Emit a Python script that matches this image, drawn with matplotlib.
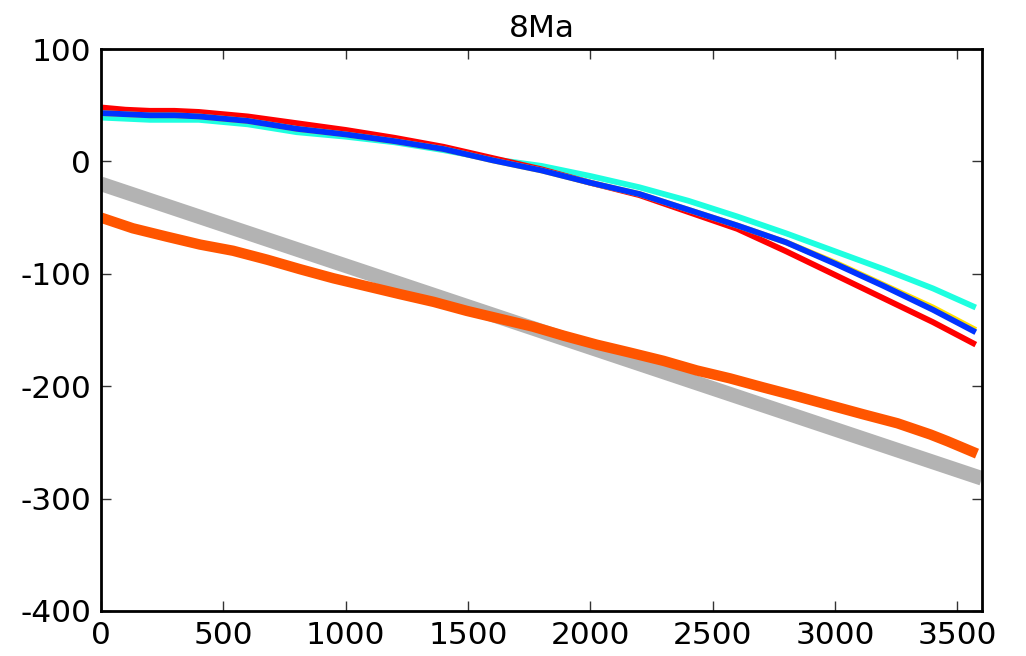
import numpy as np
from matplotlib import pyplot as plt

plt.rcParams['font.family'] = ['DejaVu Sans']

# distance along profile
x = [0, 100, 200, 300, 400, 500, 600, 800, 1000, 1200, 1400, 1600, 1800, 2000,
     2200, 2400, 2600, 2800, 3000, 3200, 3400, 3575]

red = [48, 46, 45, 45, 44, 42, 40, 34, 28, 21, 13, 3, -7, -19,
       -30, -45, -60, -80, -101, -122, -143, -163]
blue = [43, 42, 41, 41, 40, 38, 36, 29, 24, 18, 11, 1, -8, -19,
        -29, -43, -57, -72, -91, -111, -132, -152]
yellow = [43, 42, 41, 41, 40, 38, 36, 29, 24, 18, 11, 1, -8, -19,
          -29, -43, -57, -72, -90, -110, -130, -150]
cyan = [39, 38, 37, 37, 37, 35, 33, 26, 22, 17, 10, 2, -4, -13,
        -23, -35, -49, -64, -80, -96, -113, -130]

orange_x = [0, 130, 270, 405, 540, 680, 815, 950, 1085, 1220, 1360, 1495, 1630,
            1765, 1890, 2025, 2160, 2300, 2435, 2570, 2705, 2845, 2980, 3115,
            3255, 3390, 3460, 3580]
orange = [-50, -59.5, -67, -74, -79.5, -87.5, -96, -104, -111, -118, -125, -133,
          -140, -147, -155, -163, -170, -177.5, -186, -193, -201, -209, -217,
          -225, -233, -243, -249, -260]

gray_x = [0, 3600]
gray_y = [-20, -282]

fig = plt.figure(figsize=(10.26, 6.56), dpi=100)
ax = fig.add_axes([0.0984, 0.0686, 0.8586, 0.8567])

ax.plot(gray_x, gray_y, color='#b3b3b3', linewidth=10.5, solid_capstyle='butt')
ax.plot(orange_x, orange, color='#ff5500', linewidth=7.5, solid_capstyle='butt',
        solid_joinstyle='round')
ax.plot(x, cyan, color='#1effe0', linewidth=4.2, solid_capstyle='butt')
ax.plot(x, red, color='#ff0000', linewidth=4.2, solid_capstyle='butt')
ax.plot(x, yellow, color='#ffe000', linewidth=4.2, solid_capstyle='butt')
ax.plot(x, blue, color='#0033ff', linewidth=4.2, solid_capstyle='butt')

ax.set_xlim(0, 3600)
ax.set_ylim(-400, 100)
ax.set_xticks(np.arange(0, 3501, 500))
ax.set_yticks(np.arange(-400, 101, 100))
ax.set_yticklabels(['-400', '-300', '-200', '-100', '0', '100'])
ax.tick_params(direction='in', length=7, width=1, top=True, right=True,
               labelsize=22.5, pad=7, color='#333333')
for s in ax.spines.values():
    s.set_linewidth(2)
ax.set_title('8Ma', fontsize=22.5, pad=9)

fig.savefig('out.png', dpi=100)
